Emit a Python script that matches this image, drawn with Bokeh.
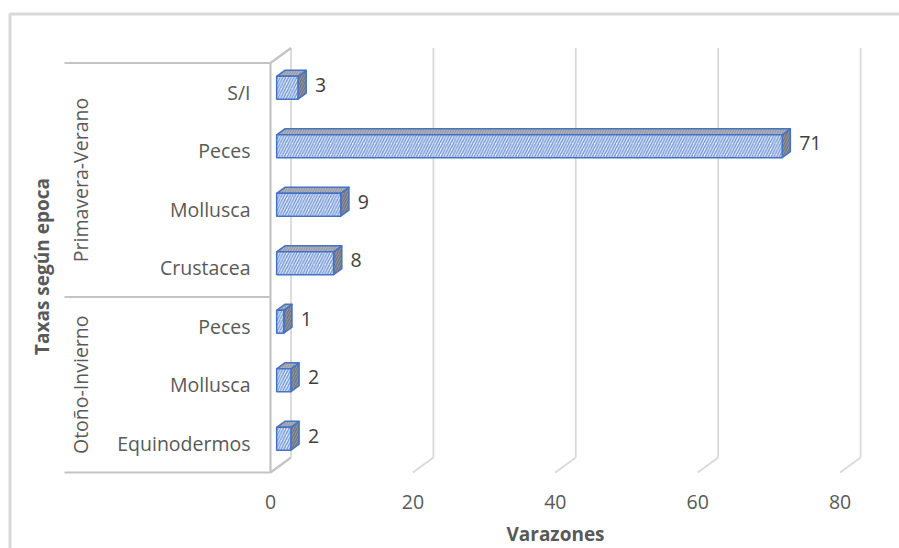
import math
from bokeh.plotting import figure
from bokeh.models import Range1d, ColumnDataSource
from bokeh.core.properties import value
from bokeh.embed import file_html
from bokeh.resources import INLINE

# --- data -------------------------------------------------------------
epocas = ["Otoño-Invierno", "Otoño-Invierno", "Otoño-Invierno",
          "Primavera-Verano", "Primavera-Verano", "Primavera-Verano", "Primavera-Verano"]
taxas = ["Equinodermos", "Mollusca", "Peces", "Crustacea", "Mollusca", "Peces", "S/I"]
varazones = [2, 2, 1, 8, 9, 71, 3]
grupos = ["Otoño-Invierno", "Primavera-Verano"]
ticks = [0, 20, 40, 60, 80]
tick_labels = ["0", "20", "40", "60", "80"]

# --- geometry -----------------------------------------------------------
W, H = 899, 548
PX = 7.12        # pixels per unit of "Varazones"
SY = 58.5        # pixels per category slot
X0PX, Y0PX = 270, 472   # front corner of the value axis origin


def px_x(px):
    return (px - X0PX) / PX


def px_y(py):
    return (Y0PX - py) / SY


DEPTH_X = 20.5 / PX      # depth of the 3-D box, horizontal component
DEPTH_Y = 15.0 / SY      # depth of the 3-D box, vertical component
BAR_FRONT = 0.3          # bar front plane (fraction of depth)
BAR_DEPTH = 0.4          # bar thickness (fraction of depth)
BAR_H = 0.39             # bar height in category slots
N = len(taxas)

FONT = value("Open Sans")
FS = "19.5px"
FSB = "19px"
LBL = "#595959"

p = figure(width=W, height=H, output_backend="svg", toolbar_location=None,
           x_range=Range1d(px_x(0), px_x(W)), y_range=Range1d(px_y(H), px_y(0)),
           x_axis_type=None, y_axis_type=None, min_border=0,
           outline_line_color=None, background_fill_color="white",
           border_fill_color="white")
p.grid.visible = False

# chart area border
p.line([px_x(9.5), px_x(9.5), px_x(W)], [px_y(H), px_y(13.5), px_y(13.5)],
       line_color="#d9d9d9", line_width=3)

# back-wall gridlines and floor edges
gx, gy = [], []
for t in ticks:
    gx.append([t + DEPTH_X, t + DEPTH_X])
    gy.append([DEPTH_Y, N + DEPTH_Y])
    if t != 0:
        gx.append([t, t + DEPTH_X])
        gy.append([0, DEPTH_Y])
p.multi_line(gx, gy, line_color="#d9d9d9", line_width=1.8)

# category axis frame (front plane) and its depth edges
ax_x = [[0, 0], [0, DEPTH_X], [0, DEPTH_X]]
ax_y = [[0, N], [N, N + DEPTH_Y], [0, DEPTH_Y]]
for yy in (0, 3, N):
    ax_x.append([px_x(64), 0])
    ax_y.append([yy, yy])
p.multi_line(ax_x, ax_y, line_color="#c4c4c4", line_width=2.2)

# --- 3-D bars -------------------------------------------------------------
fx0 = BAR_FRONT * DEPTH_X
fy0 = BAR_FRONT * DEPTH_Y
bdx = BAR_DEPTH * DEPTH_X
bdy = BAR_DEPTH * DEPTH_Y

centers = [i + 0.5 + fy0 for i in range(N)]
rights = [fx0 + v for v in varazones]

top_xs, top_ys, side_xs, side_ys = [], [], [], []
for c, r in zip(centers, rights):
    yt, yb = c + BAR_H / 2, c - BAR_H / 2
    top_xs.append([fx0, r, r + bdx, fx0 + bdx])
    top_ys.append([yt, yt, yt + bdy, yt + bdy])
    side_xs.append([r, r, r + bdx, r + bdx])
    side_ys.append([yb, yt, yt + bdy, yb + bdy])

p.patches(side_xs, side_ys, fill_color="#74767c", line_color="#4472C4",
          line_width=1.5, hatch_pattern="/", hatch_color="#9aa6c0",
          hatch_alpha=0.7, hatch_scale=5, hatch_weight=1.0, line_join="round")
p.patches(top_xs, top_ys, fill_color="#9a9ca2", line_color="#4472C4",
          line_width=1.5, hatch_pattern="/", hatch_color="#b8c2d8",
          hatch_alpha=0.7, hatch_scale=5, hatch_weight=1.0, line_join="round")

bars = ColumnDataSource(dict(y=centers, left=[fx0] * N, right=rights,
                             taxa=taxas, epoca=epocas, v=varazones))
p.hbar(y="y", left="left", right="right", height=BAR_H, source=bars,
       fill_color="#eef2fa", line_color="#4472C4", line_width=1.5,
       hatch_pattern="/", hatch_color="#7196d8", hatch_scale=5.5,
       hatch_weight=1.4)

# value labels
p.text(x=[r + 17 / PX for r in rights], y=[c + 3 / SY for c in centers],
       text=[str(v) for v in varazones], text_font=FONT, text_font_size=FS,
       text_color="#404040", text_align="left", text_baseline="middle")

# category labels
p.text(x=[px_x(250)] * N, y=[i + 0.5 for i in range(N)], text=taxas,
       text_font=FONT, text_font_size=FS, text_color=LBL,
       text_align="right", text_baseline="middle")

# group labels
p.text(x=[px_x(80)] * 2, y=[1.5, 5.0], text=grupos, angle=math.pi / 2,
       text_font=FONT, text_font_size=FS, text_color=LBL,
       text_align="center", text_baseline="middle")

# value axis tick labels
p.text(x=ticks, y=[px_y(501)] * len(ticks), text=tick_labels,
       text_font=FONT, text_font_size=FS, text_color=LBL,
       text_align="center", text_baseline="middle")

# axis titles
p.text(x=[px_x(555)], y=[px_y(533)], text=["Varazones"], text_font=FONT,
       text_font_size=FSB, text_font_style="bold", text_color=LBL,
       text_align="center", text_baseline="middle")
p.text(x=[px_x(41)], y=[px_y(266)], text=["Taxas según epoca"], angle=math.pi / 2,
       text_font=FONT, text_font_size=FSB, text_font_style="bold",
       text_color=LBL, text_align="center", text_baseline="middle")

open("out.html", "w").write(file_html(p, INLINE))
